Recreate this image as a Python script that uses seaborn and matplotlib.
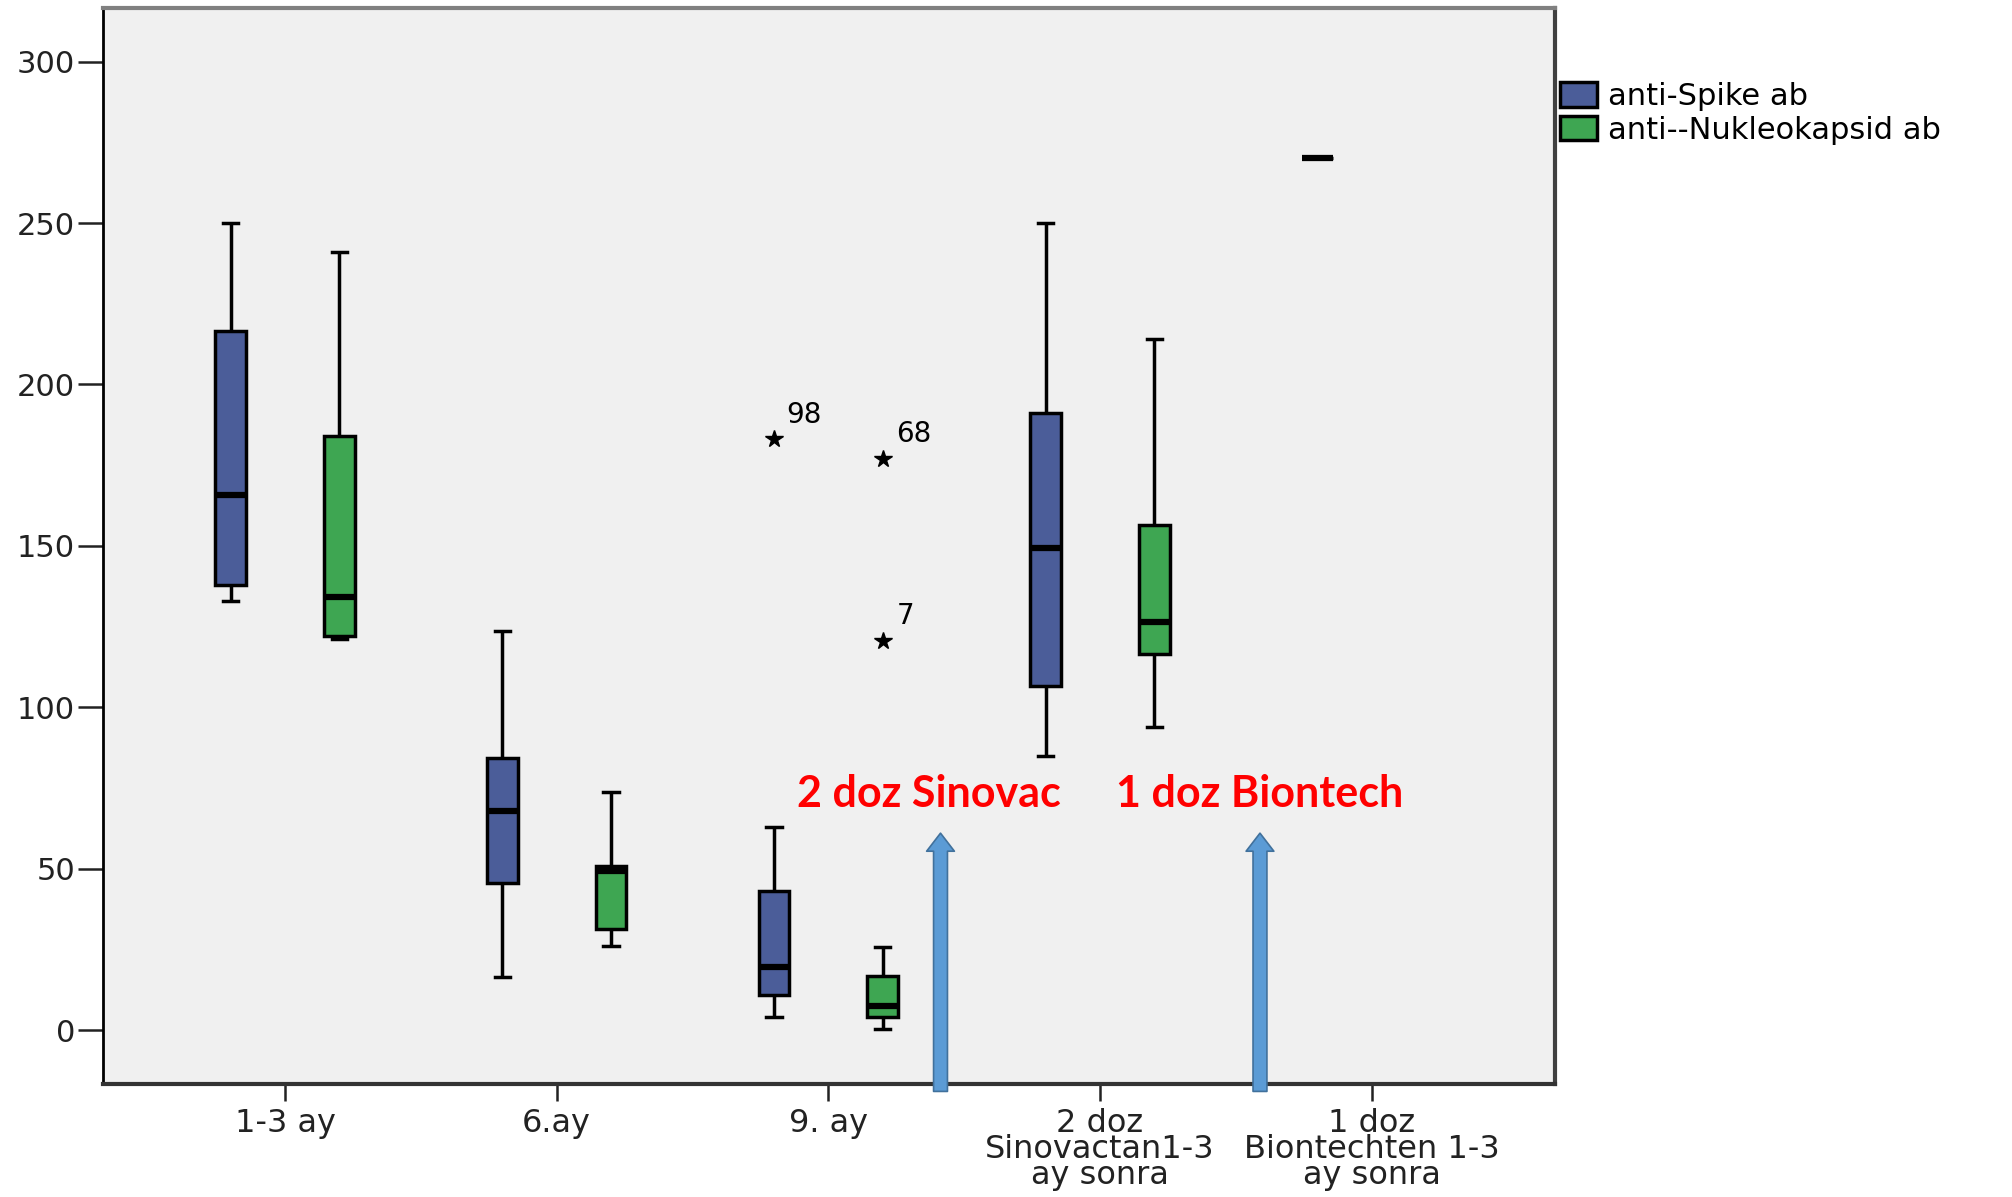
import matplotlib
matplotlib.use("Agg")
import matplotlib.pyplot as plt
import numpy as np
import pandas as pd
import seaborn as sns

# ---------------- data ----------------
groups = ["1-3 ay", "6.ay", "9. ay",
          "2 doz\nSinovactan1-3\nay sonra",
          "1 doz\nBiontechten 1-3\nay sonra"]
series = ["anti-Spike ab", "anti--Nukleokapsid ab"]

spike_min = [133, 16.3, 4.2, 85, 270]
spike_q1 = [138, 45.7, 10.8, 106.5, 270]
spike_med = [165.6, 68, 19.5, 149.4, 270]
spike_q3 = [216.7, 84.3, 43, 191, 270]
spike_max = [250, 123.6, 63, 250, 270]
spike_out = [[], [], [183], [], []]
spike_out_ids = [[], [], ["98"], [], []]

nuc_min = [121, 26, 0.2, 94, None]
nuc_q1 = [122, 31.2, 3.9, 116.5, None]
nuc_med = [134, 49.4, 7.6, 126.5, None]
nuc_q3 = [184, 50.8, 16.8, 156.6, None]
nuc_max = [241, 73.9, 25.8, 214, None]
nuc_out = [[], [], [177, 120.5], [], []]
nuc_out_ids = [[], [], ["68", "7"], [], []]

vaccine_labels = ["2 doz Sinovac", "1 doz Biontech"]

blue = "#3E56A6"
green = "#2DB747"


def expand(mn, q1, md, q3, mx, outs):
    """Sample whose quartiles / whiskers reproduce the summary stats."""
    k = len(outs)
    m = k + 1
    return [mn] + [q1] * m + [md] * m + [q3] * m + [mx] + list(outs)


rows = []
stats = {
    series[0]: (spike_min, spike_q1, spike_med, spike_q3, spike_max, spike_out),
    series[1]: (nuc_min, nuc_q1, nuc_med, nuc_q3, nuc_max, nuc_out),
}
for s, (mn, q1, md, q3, mx, outs) in stats.items():
    for i, g in enumerate(groups):
        if mn[i] is None:
            continue
        for v in expand(mn[i], q1[i], md[i], q3[i], mx[i], outs[i]):
            rows.append({"group": g, "series": s, "value": v})
df = pd.DataFrame(rows)

# ---------------- figure ----------------
plt.rcParams["font.family"] = ["DejaVu Sans"]
W, H = 2012, 1197
fig = plt.figure(figsize=(W / 100, H / 100), dpi=100)
ax = fig.add_axes([103 / W, 1 - 1084 / H, (1555 - 103) / W, (1084 - 8) / H])
ax.set_facecolor("#F0F0F0")

sns.boxplot(data=df, x="group", y="value", hue="series",
            order=groups, hue_order=series, palette=[blue, green],
            width=0.8, gap=0.72, linecolor="black", linewidth=2.5,
            whis=1.5, fliersize=13,
            flierprops=dict(marker="*", markerfacecolor="black",
                            markeredgecolor="black"),
            medianprops=dict(color="black", linewidth=4.5),
            ax=ax)

# outlier case labels
for i in range(len(groups)):
    for v, lab in zip(spike_out[i], spike_out_ids[i]):
        ax.annotate(lab, (i - 0.2, v), xytext=(9, 12), textcoords="offset points",
                    fontsize=20, ha="left", va="baseline")
    for v, lab in zip(nuc_out[i], nuc_out_ids[i]):
        ax.annotate(lab, (i + 0.2, v), xytext=(10, 12), textcoords="offset points",
                    fontsize=20, ha="left", va="baseline")

# vaccination arrows and labels
arrow_x = [2.413, 3.589]
text_x = [2.371, 3.587]
for ax_x, tx, lab in zip(arrow_x, text_x, vaccine_labels):
    ax.annotate("", xy=(ax_x, 61), xytext=(ax_x, -19), xycoords="data",
                arrowprops=dict(arrowstyle="simple,head_length=0.65,head_width=1.0,tail_width=0.5",
                                mutation_scale=20, fc="#5B9BD5", ec="#41719C", lw=1.2,
                                shrinkA=0, shrinkB=0),
                annotation_clip=False, zorder=6)
    ax.text(tx, 73, lab, color="#FF0000", fontsize=31, fontweight="bold",
            family=["Lato", "DejaVu Sans"], ha="center", va="center", zorder=6)

ax.set_xlim(-0.67, 4.675)
ax.set_ylim(-16.7, 316.6)
ax.set_yticks([0, 50, 100, 150, 200, 250, 300])
ax.set_xlabel("")
ax.set_ylabel("")

ax.tick_params(axis="y", length=18, width=1.8, pad=2, labelsize=22, colors="#222222")
ax.tick_params(axis="x", length=12, width=1.8, pad=5, labelsize=23, colors="#222222")
for lbl in ax.get_xticklabels():
    lbl.set_linespacing(0.8)

ax.spines["left"].set_color("black")
ax.spines["left"].set_linewidth(2)
ax.spines["bottom"].set_color("#333333")
ax.spines["bottom"].set_linewidth(3)
ax.spines["top"].set_color("#808080")
ax.spines["top"].set_linewidth(3)
ax.spines["right"].set_color("#404040")
ax.spines["right"].set_linewidth(3)

handles, labels = ax.get_legend_handles_labels()
if ax.get_legend() is not None:
    ax.get_legend().remove()
fig.legend(handles, labels, loc="upper left",
           bbox_to_anchor=(1560 / W, 1 - 82 / H), frameon=False, fontsize=22,
           handlelength=1.2, handleheight=0.85, handletextpad=0.38,
           labelspacing=0.15, borderpad=0, borderaxespad=0)

fig.savefig("out.png", dpi=100)
